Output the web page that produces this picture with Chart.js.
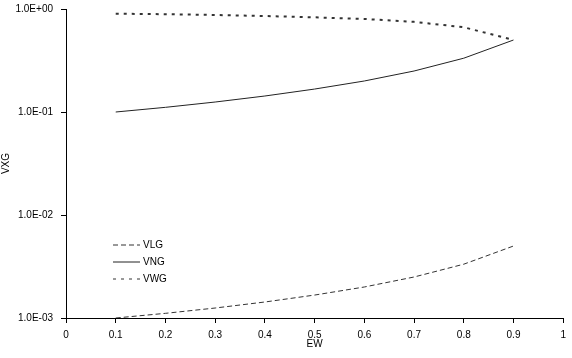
<!DOCTYPE html>
<html>
<head>
<meta charset="utf-8">
<script src="https://cdn.jsdelivr.net/npm/chart.js@4"></script>
<style>
  html, body { margin: 0; padding: 0; background: #fff; }
  #wrap { width: 572px; height: 358px; }
</style>
</head>
<body>
<div id="wrap"><canvas id="canvas"></canvas></div>
<script>
var ewValues = [0.1, 0.2, 0.3, 0.4, 0.5, 0.6, 0.7, 0.8, 0.9];
var vlgValues = [0.001, 0.00111, 0.00125, 0.00143, 0.00167, 0.002, 0.0025, 0.00333, 0.005];
var vngValues = [0.1, 0.111, 0.125, 0.143, 0.167, 0.2, 0.25, 0.333, 0.5];
var vwgValues = [0.9, 0.89, 0.875, 0.855, 0.83, 0.8, 0.75, 0.665, 0.5];
var yDecades = [0.001, 0.01, 0.1, 1];

var FONT = 'Liberation Sans, Arial, sans-serif';

function points(ys) {
    return ewValues.map(function(x, i) { return {x: x, y: ys[i]}; });
}

function sciLabel(v) {
    var e = Math.round(Math.log10(v));
    var s = e < 0 ? '-' : '+';
    var a = Math.abs(e);
    return '1.0E' + s + (a < 10 ? '0' + a : a);
}

// legend drawn inside the plot, like the original
var innerLegend = {
    id: 'innerLegend',
    afterDraw: function(chart) {
        var ctx = chart.ctx;
        var x0 = 113, x1 = 140, y = 245;
        ctx.save();
        ctx.font = '10px ' + FONT;
        ctx.textBaseline = 'middle';
        chart.data.datasets.forEach(function(ds, i) {
            var yy = y + i * 17;
            ctx.beginPath();
            ctx.setLineDash(ds.borderDash || []);
            ctx.lineWidth = 1;
            ctx.strokeStyle = ds.borderColor;
            ctx.moveTo(x0, yy);
            ctx.lineTo(x1, yy);
            ctx.stroke();
            ctx.setLineDash([]);
            ctx.fillStyle = '#000';
            ctx.fillText(ds.label, x1 + 3, yy);
        });
        ctx.restore();
    }
};

window.onload = function() {
    var ctx = document.getElementById('canvas').getContext('2d');
    window.myChart = new Chart(ctx, {
        type: 'line',
        plugins: [innerLegend],
        data: {
            datasets: [{
                label: 'VLG',
                data: points(vlgValues),
                borderColor: '#333',
                borderWidth: 1,
                borderDash: [5, 3]
            }, {
                label: 'VNG',
                data: points(vngValues),
                borderColor: '#222',
                borderWidth: 1
            }, {
                label: 'VWG',
                data: points(vwgValues),
                borderColor: '#333',
                borderWidth: 2,
                borderDash: [3, 5]
            }]
        },
        options: {
            responsive: true,
            maintainAspectRatio: false,
            animation: false,
            elements: { point: { radius: 0 }, line: { tension: 0 } },
            layout: { padding: { top: 0, right: 6, left: 0, bottom: 0 } },
            plugins: {
                legend: { display: false },
                tooltip: { enabled: false }
            },
            scales: {
                x: {
                    type: 'linear',
                    min: 0,
                    max: 1,
                    ticks: {
                        stepSize: 0.1,
                        color: '#000',
                        font: { family: FONT, size: 10 },
                        padding: 6,
                        maxRotation: 0,
                        callback: function(v) { return String(Math.round(v * 10) / 10); }
                    },
                    grid: { drawOnChartArea: false, drawTicks: true, tickLength: 5, color: '#000' },
                    border: { display: true, color: '#000', width: 1 },
                    title: { display: true, text: 'EW', color: '#000', font: { family: FONT, size: 10 }, padding: { top: 2, bottom: 8 } },
                    afterFit: function(s) { s.height = 40; }
                },
                y: {
                    type: 'logarithmic',
                    min: 0.001,
                    max: 1,
                    afterBuildTicks: function(s) {
                        s.ticks = yDecades.map(function(v) { return {value: v, major: true}; });
                    },
                    ticks: {
                        color: '#000',
                        font: { family: FONT, size: 10 },
                        padding: 8,
                        autoSkip: false,
                        callback: function(v) { return sciLabel(v); }
                    },
                    grid: { drawOnChartArea: false, drawTicks: true, tickLength: 5, color: '#000' },
                    border: { display: true, color: '#000', width: 1 },
                    title: { display: true, text: 'VXG', color: '#000', font: { family: FONT, size: 10 }, padding: { top: 0, bottom: 0 } },
                    afterFit: function(s) {
                        s.width = 66;
                        s.paddingTop = 9;
                        s.paddingBottom = 0;
                    }
                }
            }
        }
    });
};
</script>
</body>
</html>
